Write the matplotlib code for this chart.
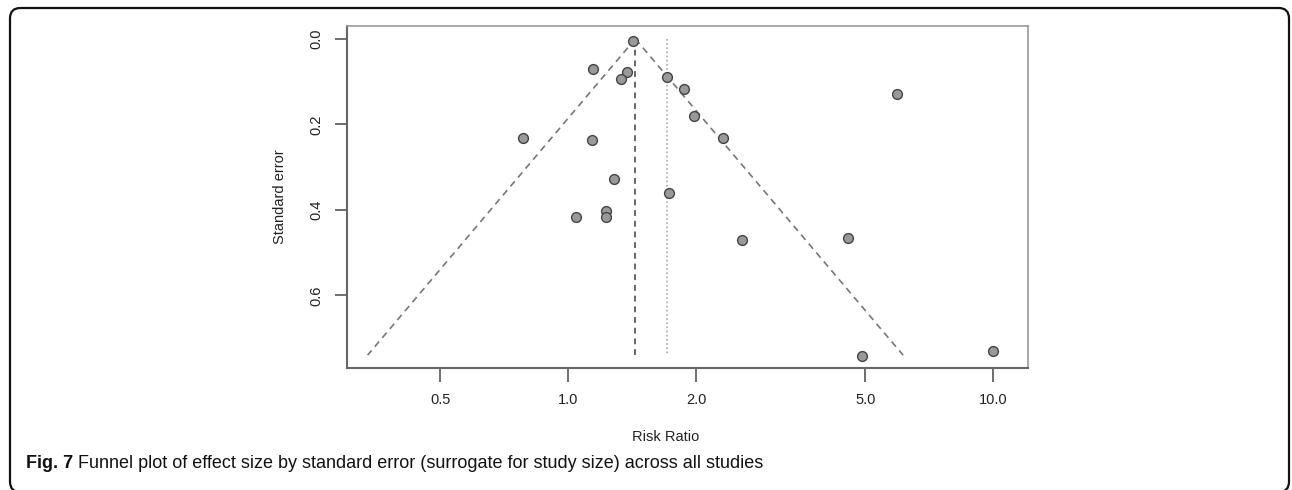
import numpy as np
import matplotlib
import matplotlib.pyplot as plt
from matplotlib.patches import FancyBboxPatch

matplotlib.use("Agg")

# Study estimates (risk ratio) and their standard errors
risk_ratio = [1.425, 1.143, 1.374, 1.332, 1.707, 1.875, 1.98, 0.785, 1.137, 1.281,
              1.728, 2.32, 5.93, 1.042, 1.228, 1.228, 2.563, 4.56, 4.91, 10.0]
std_error = [0.006, 0.070, 0.077, 0.095, 0.089, 0.118, 0.181, 0.232, 0.236, 0.328,
             0.361, 0.232, 0.128, 0.417, 0.403, 0.416, 0.470, 0.465, 0.742, 0.731]

pooled_rr = 1.44      # dashed line, summary estimate
adjusted_rr = 1.71    # dotted line
se_max = 0.74

x_ticks = [0.5, 1.0, 2.0, 5.0, 10.0]
x_tick_labels = ["0.5", "1.0", "2.0", "5.0", "10.0"]
y_ticks = [0.0, 0.2, 0.4, 0.6]
y_tick_labels = ["0.0", "0.2", "0.4", "0.6"]

W, H = 1292, 490
tick_font = ["Liberation Sans", "DejaVu Sans"]
tick_size = 10.5

fig = plt.figure(figsize=(W / 100, H / 100), dpi=100)
ax = fig.add_axes([347 / W, 1 - 368 / H, (1028 - 347) / W, (368 - 26) / H])

# funnel: pseudo 95% limits around the pooled estimate
se_line = np.array([0.0, se_max])
ln_est = np.log(pooled_rr)
ax.plot(np.exp(ln_est - 1.96 * se_line), se_line, ls=(0, (4, 3)), color="#777777", lw=1.2)
ax.plot(np.exp(ln_est + 1.96 * se_line), se_line, ls=(0, (4, 3)), color="#777777", lw=1.2)
ax.plot([pooled_rr, pooled_rr], se_line, ls=(0, (3, 2.5)), color="#666666", lw=1.4)
ax.plot([adjusted_rr, adjusted_rr], se_line, ls=(0, (1, 1.5)), color="#aaaaaa", lw=1.2)

ax.scatter(risk_ratio, std_error, s=50, facecolor="#999999", edgecolor="#444444",
           linewidth=1.0, zorder=3)

ax.set_xscale("log")
ax.set_xlim(0.302, 12.08)
ax.set_ylim(0.77, -0.03)
ax.minorticks_off()
ax.set_xticks(x_ticks)
ax.set_xticklabels(x_tick_labels, family=tick_font, fontsize=tick_size, color="#222222")
ax.set_yticks(y_ticks)
ax.set_yticklabels(y_tick_labels, family=tick_font, fontsize=tick_size, color="#222222",
                   rotation=90, va="center")
ax.tick_params(axis="x", length=10, width=1.2, color="#555555", pad=8)
ax.tick_params(axis="y", length=9, width=1.2, color="#555555", pad=8)
for side in ["left", "bottom"]:
    ax.spines[side].set_color("#666666")
    ax.spines[side].set_linewidth(1.5)
for side in ["top", "right"]:
    ax.spines[side].set_color("#999999")
    ax.spines[side].set_linewidth(1.2)

fig.text(666 / W, 1 - 437 / H, "Risk Ratio", family=tick_font, fontsize=tick_size,
         color="#222222", ha="center", va="center")
fig.text(280 / W, 1 - 197 / H, "Standard error", family=tick_font, fontsize=tick_size,
         color="#222222", ha="center", va="center", rotation=90)

# caption
cap_font = ["Liberation Sans", "DejaVu Sans"]
t1 = fig.text(26 / W, 1 - 463 / H, "Fig. 7", family=cap_font, fontsize=13,
              weight="bold", color="#111111", ha="left", va="center")
fig.canvas.draw()
bb = t1.get_window_extent()
fig.text((bb.x1 + 5) / W, 1 - 463 / H,
         "Funnel plot of effect size by standard error (surrogate for study size) across all studies",
         family=cap_font, fontsize=13, color="#111111", ha="left", va="center")

# outer rounded frame (bottom edge runs off the image)
frame = FancyBboxPatch((10 / W, 1 - 492 / H), (1289 - 10) / W, (492 - 8) / H,
                       boxstyle="round,pad=0,rounding_size=0.008",
                       transform=fig.transFigure, fill=False, edgecolor="#111111",
                       linewidth=1.6, mutation_aspect=W / H)
fig.patches.append(frame)

fig.savefig("out.png", dpi=100)
